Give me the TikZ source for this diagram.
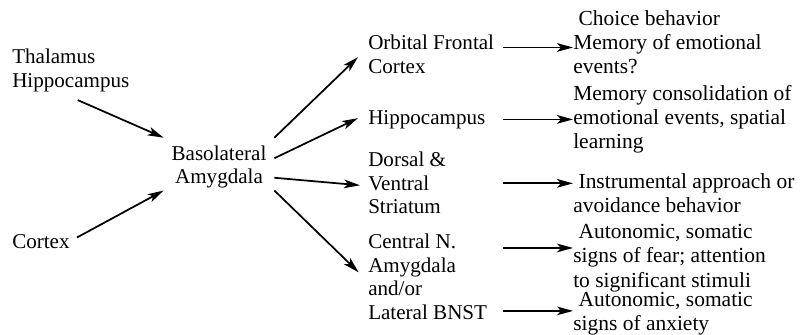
\documentclass[tikz,border=0pt]{standalone}
\usepackage{fontspec}
\setmainfont{Liberation Serif}
\usetikzlibrary{arrows.meta}

\begin{document}
\begin{tikzpicture}[
  x=0.75pt, y=-0.75pt,
  lbl/.style={font=\fontsize{15.8}{17.6}\selectfont, inner sep=0pt, align=left, anchor=north west},
  region/.style={lbl, text width=101pt, align=flush left},
  func/.style={lbl, font=\fontsize{16.1}{18.2}\selectfont},
  arr/.style={-{Stealth[length=12pt, width=6.5pt, inset=3pt]}, line width=1.3pt}
]
\useasboundingbox (0,0) rectangle (802,335);
% inputs
\node[lbl] (thal) at (12,49) {Thalamus\\Hippocampus};
\node[lbl] (ctx) at (12,234) {Cortex};
\node[lbl, align=center, anchor=center, outer sep=6pt] (bla) at (219,167) {Basolateral\\Amygdala};
% output regions
\node[region] (ofc) at (368,35) {Orbital Frontal\\Cortex};
\node[region] (hip) at (368,110) {Hippocampus};
\node[region] (str) at (368,152) {Dorsal \&\\Ventral\\Striatum};
\node[region] (cea) at (368,234) {Central N.\\Amygdala\\and/or\\Lateral BNST};
% functions
\node[func] (fn1) at (573,10) {\hspace*{4pt}Choice behavior\\Memory of emotional\\events?};
\node[func] (fn2) at (573,85) {Memory consolidation of\\emotional events, spatial\\learning};
\node[func] (fn3) at (573,173) {\hspace*{4pt}Instrumental approach or\\avoidance behavior};
\node[func] (fn4) at (573,224) {\hspace*{4pt}Autonomic, somatic\\signs of fear; attention\\to significant stimuli};
\node[func] (fn5) at (573,292) {\hspace*{4pt}Autonomic, somatic\\signs of anxiety};
\coordinate (in1) at ([yshift=-4pt]fn1.west);
\coordinate (in3) at ([yshift=7.2pt]fn3.west);
\coordinate (in4) at ([yshift=7.5pt]fn4.west);
\coordinate (in5) at ([yshift=2.2pt]fn5.west);
% into BLA
\draw[arr] ([shift={(7,8)}]thal.south) -- (bla.north west);
\draw[arr, shorten <=6pt] (ctx.east) -- (bla.-157);
% out of BLA
\draw[arr] (bla.north east) -- ([xshift=-7.5pt, yshift=-2pt]ofc.west);
\draw[arr] (bla.9) -- ([xshift=-7.5pt, yshift=1pt]hip.west);
\draw[arr] (bla.-11) -- ([xshift=-6pt, yshift=-1.6pt]str.west);
\draw[arr] (bla.-23) -- ([xshift=-7pt, yshift=3.4pt]cea.west);
% to functions
\draw[arr] (ofc.east |- in1) -- (in1);
\draw[arr] (hip.east |- fn2.west) -- (fn2.west);
\draw[arr] (str.east |- in3) -- (in3);
\draw[arr] (cea.east |- in4) -- (in4);
\draw[arr] (cea.east |- in5) -- (in5);
\end{tikzpicture}
\end{document}
